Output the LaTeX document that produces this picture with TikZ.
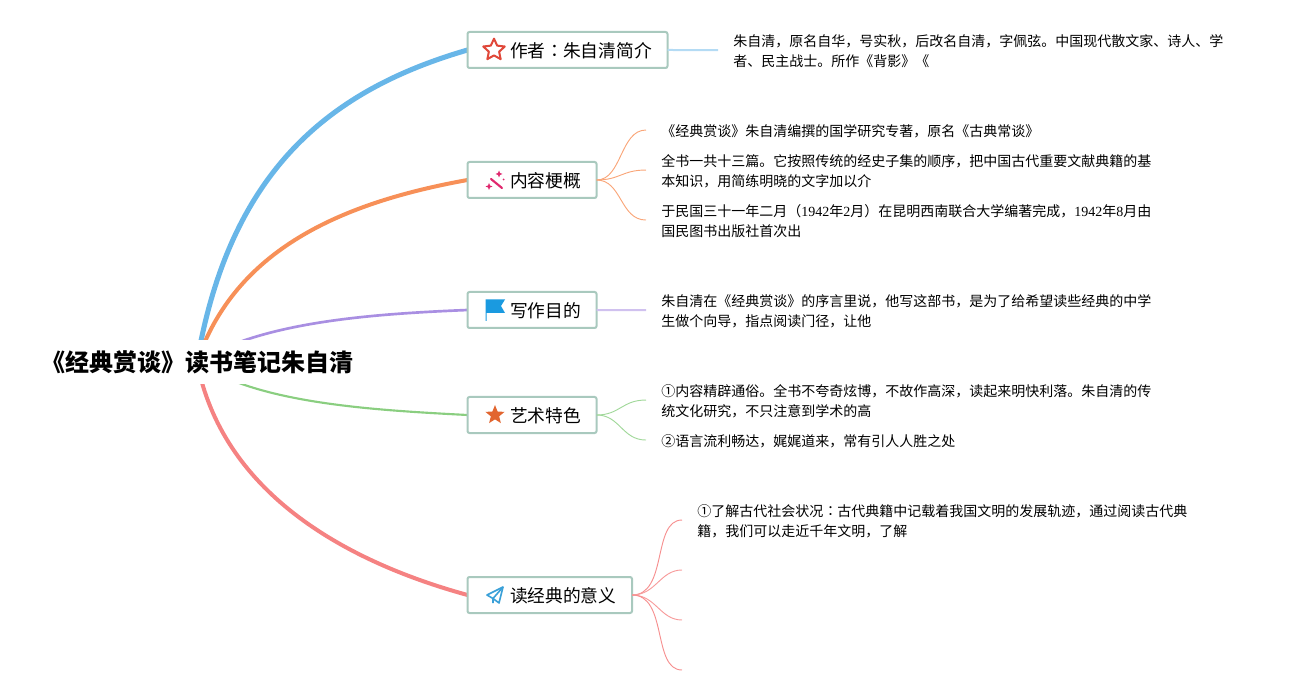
\documentclass[tikz,border=0pt]{standalone}
\usepackage{fontspec}
\setmainfont{Liberation Serif}
\newfontfamily\cjk{Noto Sans CJK SC}
\usetikzlibrary{backgrounds,shapes.geometric}
\definecolor{boxline}{HTML}{A9C9BE}
\definecolor{bluemain}{HTML}{68B6E8}
\definecolor{orangemain}{HTML}{F79058}
\definecolor{purplemain}{HTML}{A98FE2}
\definecolor{greenmain}{HTML}{8ACE80}
\definecolor{redmain}{HTML}{F58282}
\definecolor{staricon}{HTML}{E0483A}
\definecolor{fullstaricon}{HTML}{E2652F}
\definecolor{flagicon}{HTML}{1A9AE0}
\definecolor{wandicon}{HTML}{E0286E}
\definecolor{planeicon}{HTML}{3AA0D8}
\newcommand{\lat}[1]{{\rmfamily #1}}
\newcommand{\midcolon}{\kern.28em\raisebox{.06em}{：}\kern-.28em}
\tikzset{
	rootnode/.style={fill=white,inner sep=0pt,minimum width=255pt,minimum height=33pt,font=\cjk\fontsize{18}{20}\selectfont\bfseries},
	branchnode/.style={draw=boxline,line width=1.5pt,fill=white,rounded corners=1.5pt,anchor=west,inner xsep=11.7pt,inner ysep=0pt,outer sep=0pt,minimum height=27pt,text height=11pt,text depth=0pt,font=\cjk\fontsize{13.3}{16}\selectfont,execute at begin node=\hspace*{20.2pt}},
	leafnode/.style={anchor=west,align=left,inner xsep=11.25pt,inner ysep=0pt,font=\cjk\fontsize{10.5}{15}\selectfont},
	mainline/.style={line width=#1,line cap=round},
	twig/.style={line width=.7pt},
	up/.style={yshift=1.1pt},
}
\begin{document}
\begin{tikzpicture}[x=.75pt,y=-.75pt]
	\useasboundingbox (0,0) rectangle (1293,695);
	\node[rootnode] (root) at (197,362) {《经典赏谈》读书笔记朱自清};
	\node[branchnode] (author) at (467.5,50) {作者\midcolon 朱自清简介};
	\node[branchnode] (content) at (467.5,180) {内容梗概};
	\node[branchnode] (purpose) at (467.5,310) {写作目的};
	\node[branchnode] (art) at (467.5,415) {艺术特色};
	\node[branchnode] (meaning) at (467.5,595) {读经典的意义};
	\node[leafnode] (authortext) at (718,51.5) {朱自清，原名自华，号实秋，后改名自清，字佩弦。中国现代散文家、诗人、学\\者、民主战士。所作《背影》《};
	\node[leafnode] (contenta) at (646,131.5) {《经典赏谈》朱自清编撰的国学研究专著，原名《古典常谈》};
	\node[leafnode] (contentb) at (646,171.5) {全书一共十三篇。它按照传统的经史子集的顺序，把中国古代重要文献典籍的基\\本知识，用简练明晓的文字加以介};
	\node[leafnode] (contentc) at (646,221.5) {于民国三十一年二月（\lat{1942}年\lat{2}月）在昆明西南联合大学编著完成，\lat{1942}年\lat{8}月由\\国民图书出版社首次出};
	\node[leafnode] (purposetext) at (646,311.5) {朱自清在《经典赏谈》的序言里说，他写这部书，是为了给希望读些经典的中学\\生做个向导，指点阅读门径，让他};
	\node[leafnode] (arta) at (646,401.5) {①内容精辟通俗。全书不夸奇炫博，不故作高深，读起来明快利落。朱自清的传\\统文化研究，不只注意到学术的高};
	\node[leafnode] (artb) at (646,441.5) {②语言流利畅达，娓娓道来，常有引人人胜之处};
	\node[leafnode] (meaninga) at (682,521.5) {①了解古代社会状况\midcolon 古代典籍中记载着我国文明的发展轨迹，通过阅读古代典\\籍，我们可以走近千年文明，了解};
	\coordinate (meaningb) at (682,570);
	\coordinate (meaningc) at (682,620);
	\coordinate (meaningd) at (682,670);
	\begin{pgfonlayer}{background}
		\draw[mainline=3.8pt,bluemain] (root.center) .. controls (230,170) and (330,90) .. (author.west);
		\draw[mainline=3pt,orangemain] (root.center) .. controls (235,250) and (340,203) .. (content.west);
		\draw[mainline=2pt,purplemain] (root.center) .. controls (262,322) and (370,314) .. (purpose.west);
		\draw[mainline=1.6pt,greenmain] (root.center) .. controls (256,403) and (370,410) .. (art.west);
		\draw[mainline=3pt,redmain] (root.center) .. controls (222,490) and (340,560) .. (meaning.west);
	\end{pgfonlayer}
	\draw[line width=1.5pt,bluemain!50] (author.east) to ([up]authortext.west);
	\draw[twig,orangemain!80] (content.east) .. controls (622,180) and (620,130) .. ([up]contenta.west);
	\draw[twig,orangemain!80] (content.east) .. controls (620,180) and (622,170) .. ([up]contentb.west);
	\draw[twig,orangemain!80] (content.east) .. controls (622,180) and (620,220) .. ([up]contentc.west);
	\draw[line width=1.5pt,purplemain!55] (purpose.east) to ([up]purposetext.west);
	\draw[twig,greenmain!80] (art.east) .. controls (620,415) and (622,400) .. ([up]arta.west);
	\draw[twig,greenmain!80] (art.east) .. controls (620,415) and (622,440) .. ([up]artb.west);
	\draw[twig,redmain!90] (meaning.east) .. controls (668,595) and (652,520) .. ([up]meaninga.west);
	\draw[twig,redmain!80] (meaning.east) .. controls (656,595) and (660,570) .. (meaningb);
	\draw[twig,redmain!80] (meaning.east) .. controls (656,595) and (660,620) .. (meaningc);
	\draw[twig,redmain!90] (meaning.east) .. controls (668,595) and (652,670) .. (meaningd);
	%icons
	\node[star,star points=5,star point ratio=2.1,draw=staricon,line width=1.5pt,line join=round,inner sep=0pt,minimum size=17pt] (authoricon) at (494,50) {};
	\node[star,star points=5,star point ratio=2.3,fill=fullstaricon,inner sep=0pt,minimum size=15pt] (articon) at (495,415) {};
	\fill[flagicon] (485.5,299.5) -- (505,299.5) -- (501,306) -- (505,313) -- (486.5,313) -- (486.5,321) -- (485.5,321) -- cycle;
	\draw[line width=1.6pt,line cap=round,wandicon] (491,179) -- (502,188);
	\fill[wandicon] (499,170.5) -- (500,173) -- (502.5,174) -- (500,175) -- (499,177.5) -- (498,175) -- (495.5,174) -- (498,173) -- cycle;
	\fill[wandicon] (489,183) -- (490,185.5) -- (492.5,186.5) -- (490,187.5) -- (489,190) -- (488,187.5) -- (485.5,186.5) -- (488,185.5) -- cycle;
	\fill[wandicon] (503.5,179.5) circle (1);
	\draw[line width=1.2pt,line join=round,planeicon] (503,587) -- (487,595) -- (493,598.5) -- (499,603) -- cycle;
	\draw[line width=1.2pt,line join=round,planeicon] (503,587) -- (493,598.5) -- (493,603);
\end{tikzpicture}
\end{document}
